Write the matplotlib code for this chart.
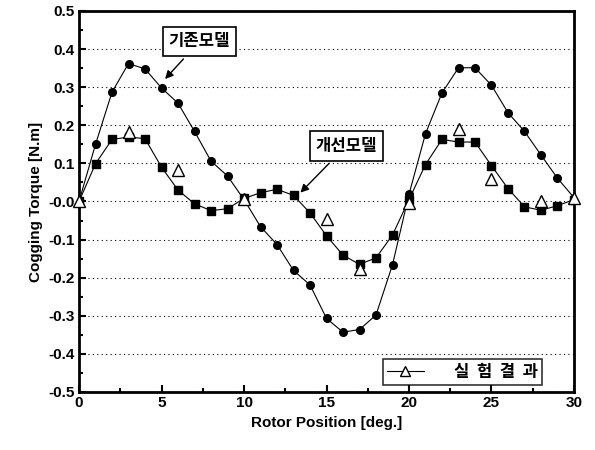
import numpy as np
import matplotlib
matplotlib.use("Agg")
import matplotlib.pyplot as plt
from matplotlib.ticker import MultipleLocator

plt.rcParams['font.family'] = ['Liberation Sans', 'Noto Sans CJK KR', 'DejaVu Sans']

# 데이터
angle = list(range(0, 31))
torque_old = [0.0, 0.150, 0.287, 0.362, 0.348, 0.298, 0.258, 0.184, 0.106, 0.067,
              0.005, -0.066, -0.113, -0.181, -0.219, -0.307, -0.343, -0.336, -0.298, -0.166,
              0.019, 0.178, 0.285, 0.351, 0.351, 0.305, 0.233, 0.184, 0.122, 0.061, 0.01]
torque_new = [0.0, 0.099, 0.163, 0.169, 0.165, 0.090, 0.030, -0.006, -0.024, -0.019,
              0.008, 0.023, 0.032, 0.016, -0.030, -0.090, -0.141, -0.165, -0.148, -0.088,
              0.005, 0.097, 0.163, 0.156, 0.156, 0.094, 0.034, -0.014, -0.023, -0.011, 0.005]
angle_exp = [0, 3, 6, 10, 15, 17, 20, 23, 25, 28, 30]
torque_exp = [0.0, 0.183, 0.082, 0.007, -0.045, -0.176, -0.004, 0.190, 0.058, 0.0, 0.008]

fig = plt.figure(figsize=(5.95, 4.5), dpi=100)
ax = fig.add_axes([0.1328, 0.1289, 0.8319, 0.8467])

ax.plot(angle, torque_old, '-', color='black', lw=0.8, marker='o', ms=5.5, zorder=3)
ax.plot(angle, torque_new, '-', color='black', lw=0.8, marker='s', ms=5.5, zorder=3)
ax.plot(angle_exp, torque_exp, linestyle='none', marker='^', ms=9, mfc='white',
        mec='black', mew=1.0, zorder=4, clip_on=False)

ax.set_xlim(0, 30)
ax.set_ylim(-0.5, 0.5)
ax.xaxis.set_major_locator(MultipleLocator(5))
ax.xaxis.set_minor_locator(MultipleLocator(2.5))
ax.yaxis.set_minor_locator(MultipleLocator(0.05))
yt = np.round(np.arange(-0.5, 0.51, 0.1), 1)
ax.set_yticks(yt)
ax.set_yticklabels([f"{v:.1f}" for v in yt])
ax.tick_params(which='both', direction='in', width=1.5, labelsize=11)
ax.tick_params(which='major', length=5, pad=3)
ax.tick_params(which='minor', length=3)
for lab in ax.get_xticklabels() + ax.get_yticklabels():
    lab.set_fontweight('bold')
for s in ax.spines.values():
    s.set_linewidth(2)

ax.grid(axis='y', linestyle=(0, (1, 3)), color='black', lw=0.8)
ax.set_xlabel('Rotor Position [deg.]', fontsize=11, fontweight='bold')
ax.set_ylabel('Cogging Torque [N.m]', fontsize=11, fontweight='bold')

box = dict(boxstyle='square,pad=0.35', fc='white', ec='black', lw=1.2)
arrow = dict(arrowstyle='-|>', color='black', lw=1.0, mutation_scale=12)
ax.annotate('기존모델', xy=(5.1, 0.316), xytext=(7.3, 0.42), ha='center', va='center',
            fontsize=12, fontweight='bold', family=['Noto Sans CJK KR'], bbox=box,
            arrowprops=arrow)
ax.annotate('개선모델', xy=(13.3, 0.018), xytext=(16.2, 0.146), ha='center', va='center',
            fontsize=12, fontweight='bold', family=['Noto Sans CJK KR'], bbox=box,
            arrowprops=arrow)

ax.plot([], [], '-', color='black', lw=0.8, marker='^', ms=7, mfc='white',
        mec='black', label='실  험  결  과')
leg = ax.legend(loc='lower right', bbox_to_anchor=(0.935, 0.018), frameon=True, fancybox=False,
                edgecolor='black', prop={'family': 'Noto Sans CJK KR', 'size': 12, 'weight': 'bold'},
                handlelength=2.2, handletextpad=1.8, borderpad=0.25, borderaxespad=0)
leg.get_frame().set_linewidth(1.2)

fig.savefig('out.png', dpi=100)
